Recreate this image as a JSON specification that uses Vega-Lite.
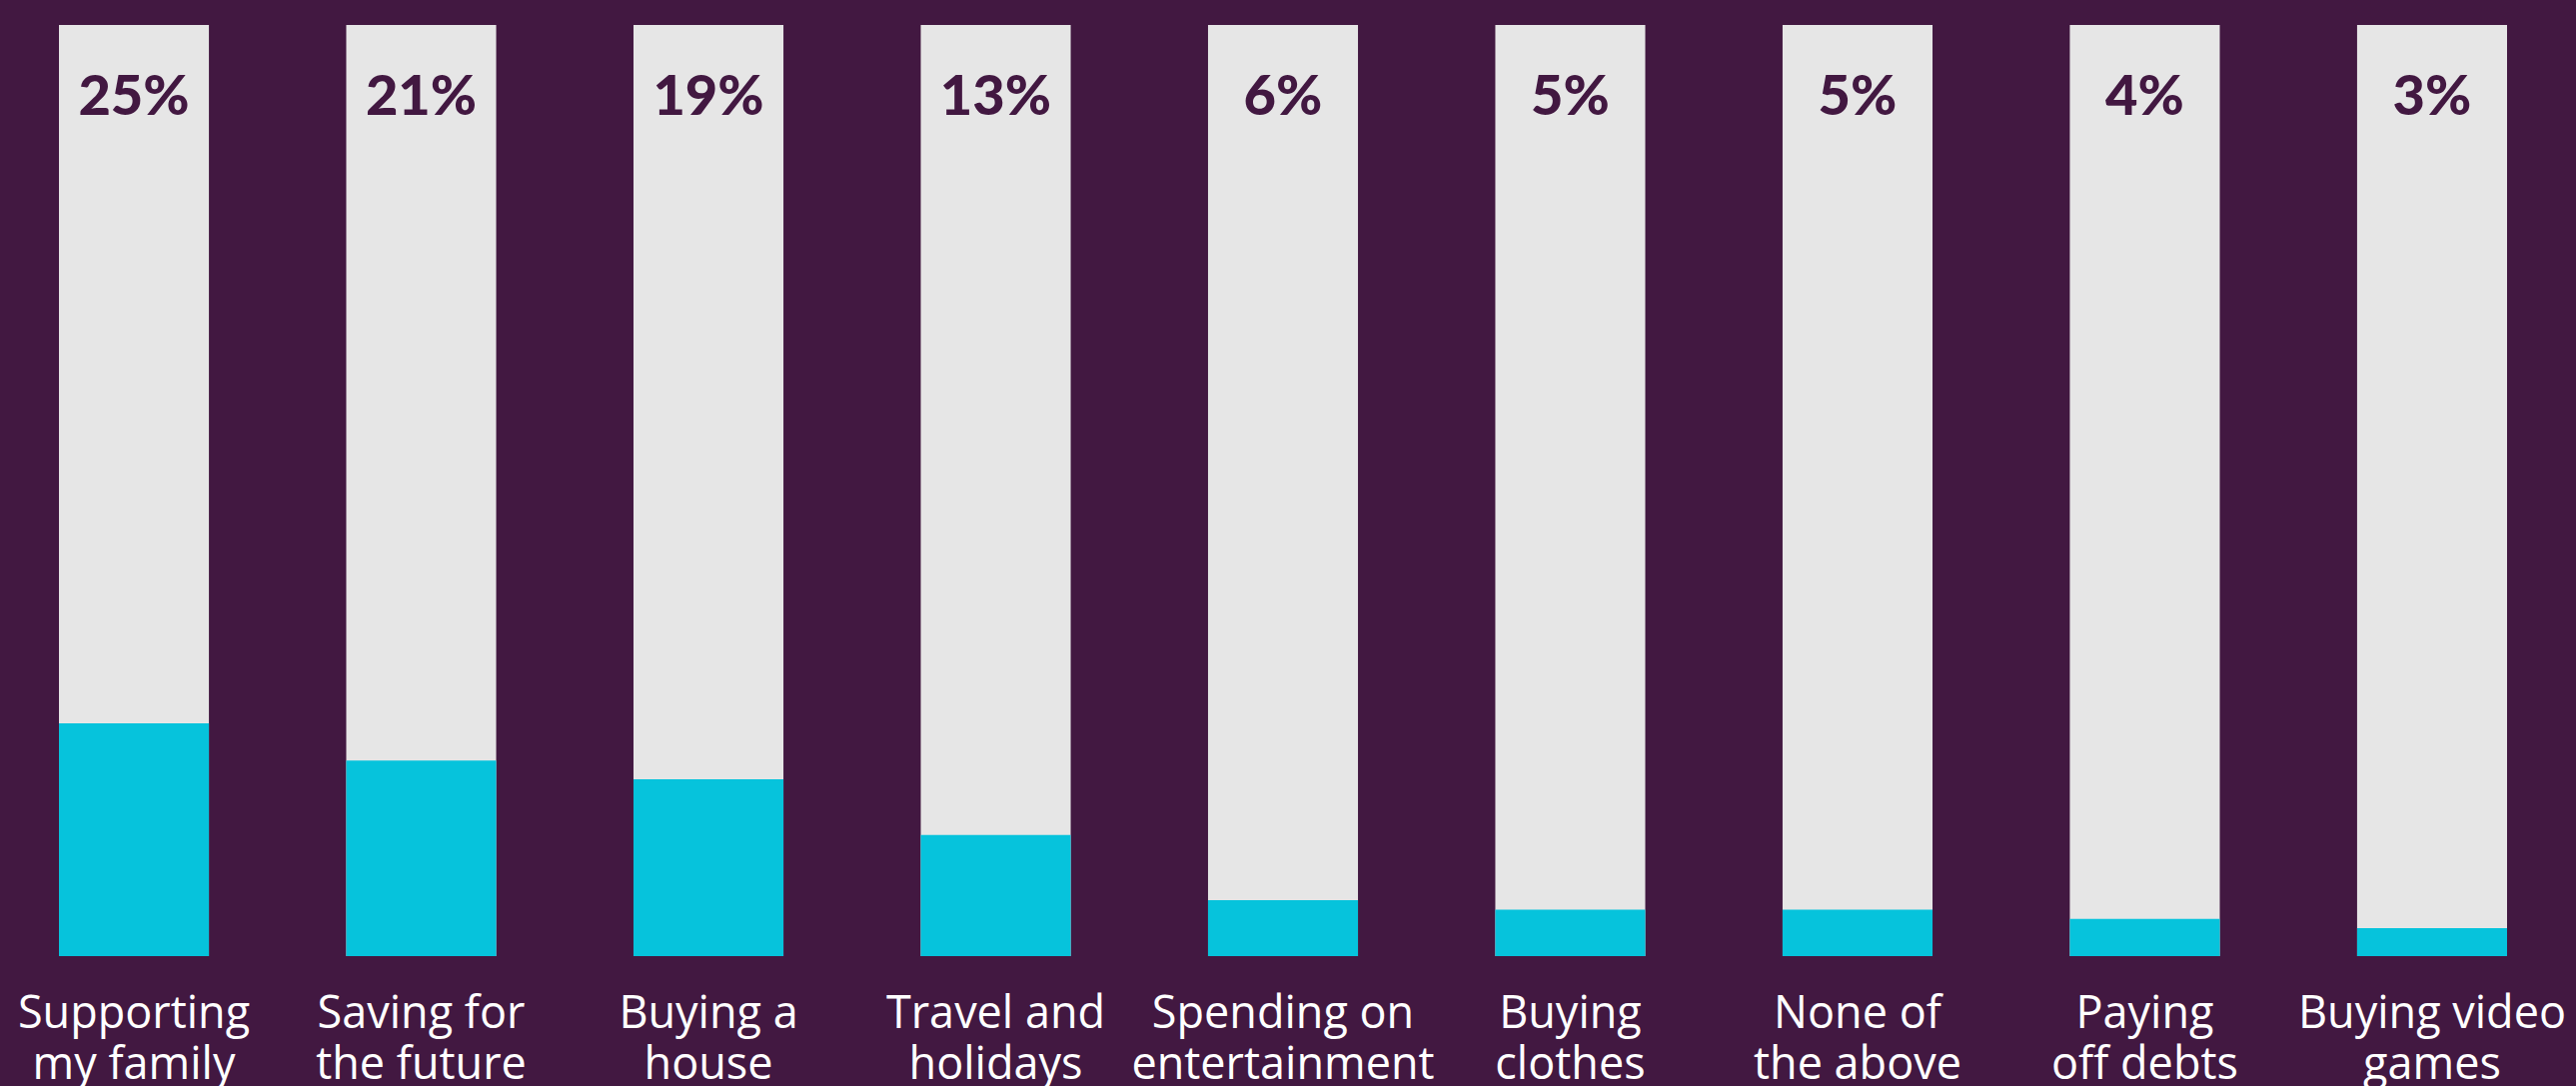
{
  "$schema": "https://vega.github.io/schema/vega-lite/v6.json",
  "width": 2450,
  "height": 932,
  "autosize": {"type": "none"},
  "padding": {"left": 59, "top": 25, "right": 69, "bottom": 130},
  "background": "#421841",
  "config": {"view": {"stroke": null}},
  "data": {
    "values": [
      {"category": "Supporting\nmy family", "share": 0.25},
      {"category": "Saving for\nthe future", "share": 0.21},
      {"category": "Buying a\nhouse", "share": 0.19},
      {"category": "Travel and\nholidays", "share": 0.13},
      {"category": "Spending on\nentertainment", "share": 0.06},
      {"category": "Buying\nclothes", "share": 0.05},
      {"category": "None of\nthe above", "share": 0.05},
      {"category": "Paying\noff debts", "share": 0.04},
      {"category": "Buying video\ngames", "share": 0.03}
    ]
  },
  "encoding": {
    "x": {
      "field": "category",
      "type": "nominal",
      "sort": null,
      "scale": {"paddingInner": 0.478, "paddingOuter": 0},
      "axis": {
        "title": null,
        "domain": false,
        "ticks": false,
        "labelAngle": 0,
        "labelExpr": "split(datum.label, '\\n')",
        "labelFont": "Open Sans",
        "labelFontSize": 45,
        "labelColor": "#ffffff",
        "labelBaseline": "alphabetic",
        "labelPadding": 71,
        "labelLineHeight": 51,
        "labelAlign": "center",
        "labelLimit": 0
      }
    }
  },
  "layer": [
    {
      "mark": {"type": "bar", "color": "#e6e6e6"},
      "encoding": {
        "y": {"datum": 1, "type": "quantitative", "scale": {"domain": [0, 1]}, "axis": null}
      }
    },
    {
      "mark": {"type": "bar", "color": "#06c3dc"},
      "encoding": {
        "y": {"field": "share", "type": "quantitative", "scale": {"domain": [0, 1]}, "axis": null}
      }
    },
    {
      "mark": {"type": "text", "font": "Lato", "fontWeight": 900, "fontSize": 56, "color": "#421841", "baseline": "alphabetic", "align": "center"},
      "encoding": {
        "y": {"datum": 0.903, "type": "quantitative"},
        "text": {"field": "share", "type": "quantitative", "format": ".0%"}
      }
    }
  ]
}
